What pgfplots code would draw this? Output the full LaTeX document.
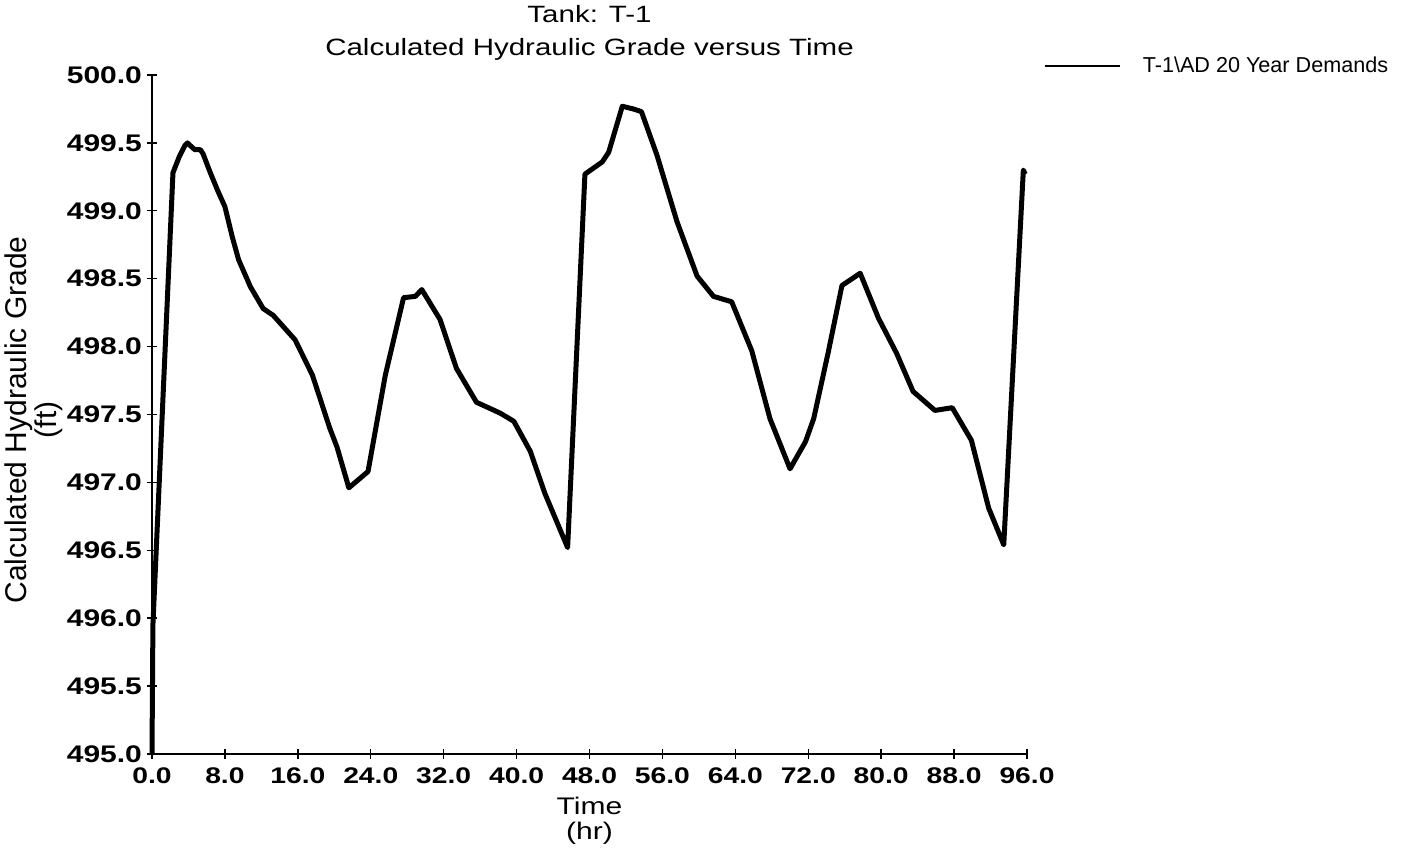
\documentclass[border=0pt]{standalone}
\usepackage{fontspec}
\setmainfont{Liberation Sans}
\newfontfamily\wf{Liberation Sans}[FakeStretch=1.25]
\usepackage{pgfplots}
\pgfplotsset{compat=1.18}
\begin{document}
\begin{tikzpicture}
\useasboundingbox (-76pt,-48pt) rectangle (630pt,377pt);
\begin{axis}[
  at={(0,0)}, anchor=south west,
  scale only axis, width=437.5pt, height=339.5pt,
  xmin=0, xmax=96, ymin=495, ymax=500,
  xtick={0,8,16,24,32,40,48,56,64,72,80,88,96},
  ytick={495,495.5,496,496.5,497,497.5,498,498.5,499,499.5,500},
  axis lines*=left,
  axis line style={-, line width=0.75pt, black},
  xtick pos=left, ytick pos=left,
  tick align=center, major tick length=5pt,
  tick style={black, line width=0.7pt},
  clip=false,
  every axis title shift=0pt,
  x tick label style={font=\wf\bfseries\fontsize{11.3}{13}\selectfont, yshift=-1pt,
    /pgf/number format/.cd, fixed, fixed zerofill, precision=1, assume math mode=true},
  y tick label style={font=\wf\bfseries\fontsize{12}{14}\selectfont, xshift=1pt,
    /pgf/number format/.cd, fixed, fixed zerofill, precision=1, assume math mode=true},
  title={Calculated Hydraulic Grade versus Time},
  title style={font=\wf\fontsize{11.8}{14}\selectfont,
    at={(axis description cs:0.5,1.028)}, anchor=base},
  xlabel={Time\\(hr)},
  xlabel style={font=\wf\fontsize{12}{12.5}\selectfont, align=center,
    at={(axis description cs:0.5,-0.098)}, anchor=center},
  ylabel={Calculated Hydraulic Grade\\(ft)},
  ylabel style={font=\fontsize{15}{13.5}\selectfont, align=center,
    at={(axis description cs:-0.135,0.492)}, anchor=center},
  legend style={at={(axis description cs:1.0183,1.0133)}, anchor=west,
    draw=none, fill=none, inner sep=0pt, column sep=11pt,
    nodes={inner sep=0pt, anchor=west},
    font=\fontsize{10.8}{12}\selectfont},
  legend image code/.code={\draw[black, line width=1.2pt] (0pt,0pt) -- (37.5pt,0pt);},
]
\addplot[black, line width=2.5pt, line join=round] coordinates {
(0,495.0) (0.1,495.95) (2.3,499.28) (3.0,499.40) (3.6,499.48) (3.9,499.50)
(4.2,499.48) (4.7,499.45) (5.3,499.45) (5.6,499.42) (6.4,499.28) (7.2,499.15)
(8.0,499.03) (8.8,498.81) (9.5,498.64) (10.8,498.44) (12.2,498.28) (13.3,498.23)
(15.7,498.05) (17.6,497.79) (19.5,497.40) (20.3,497.26) (21.6,496.96) (23.7,497.08)
(25.6,497.79) (27.6,498.36) (28.9,498.37) (29.6,498.42) (31.6,498.20) (33.4,497.84)
(35.6,497.59) (38.2,497.51) (39.7,497.45) (41.5,497.23) (43.1,496.92) (45.6,496.52)
(47.5,499.27) (49.4,499.36) (50.1,499.43) (51.6,499.77) (52.8,499.75) (53.7,499.73)
(55.4,499.41) (57.6,498.92) (59.8,498.52) (61.6,498.37) (63.6,498.33) (65.8,497.97)
(67.8,497.47) (70.0,497.10) (71.7,497.30) (72.6,497.47) (74.2,497.96) (75.7,498.45)
(77.7,498.54) (79.7,498.21) (81.7,497.95) (83.5,497.67) (85.9,497.53) (87.8,497.55)
(89.9,497.31) (91.8,496.81) (93.45,496.54) (95.6,499.30) (95.8,499.27)
};
\addlegendentry{T-1\textbackslash AD 20 Year Demands}
\node[font=\wf\fontsize{11.8}{14}\selectfont, anchor=base] at (axis description cs:0.5,1.078) {Tank: T-1};
\end{axis}
\end{tikzpicture}
\end{document}
